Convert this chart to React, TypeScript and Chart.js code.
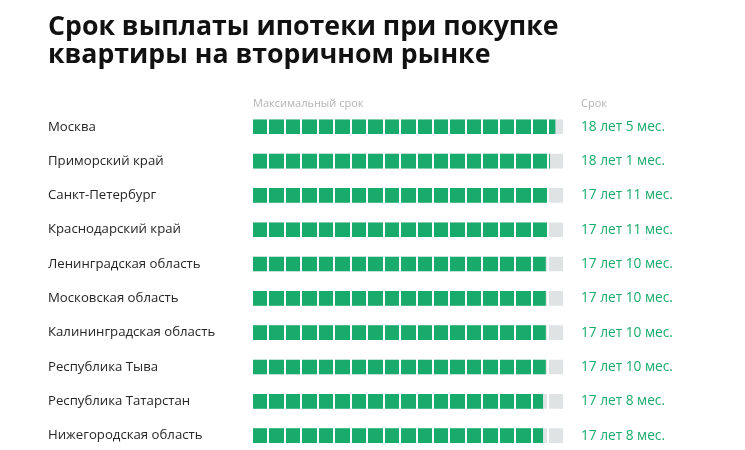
import React, { useEffect, useRef } from "react";
import { Chart, registerables } from "chart.js";

Chart.register(...registerables);

const titleLines = ["Срок выплаты ипотеки при покупке", "квартиры на вторичном рынке"];
const regions = [
  "Москва",
  "Приморский край",
  "Санкт-Петербург",
  "Краснодарский край",
  "Ленинградская область",
  "Московская область",
  "Калининградская область",
  "Республика Тыва",
  "Республика Татарстан",
  "Нижегородская область",
];
const termYears = [18, 18, 17, 17, 17, 17, 17, 17, 17, 17];
const termMonths = [5, 1, 11, 11, 10, 10, 10, 10, 8, 8];
const maxTerm = 18.9;
const headerLeft = "Максимальный срок";
const headerRight = "Срок";

const termValues = termYears.map((y, i) => y + termMonths[i] / 12);
const termLabels = termYears.map((y, i) => `${y} лет ${termMonths[i]} мес.`);

const GREEN = "#19ab6b";
const TRACK = "#dfe3e3";
const FONT = "'Open Sans', sans-serif";

export default function App() {
  const ref = useRef<HTMLCanvasElement | null>(null);

  useEffect(() => {
    if (!ref.current) return;
    const headerPlugin = {
      id: "headers",
      afterDraw(chart: any) {
        const { ctx, chartArea } = chart;
        const y2 = chart.scales.y2;
        ctx.save();
        ctx.font = `11px ${FONT}`;
        ctx.fillStyle = "#b3b3b3";
        ctx.textBaseline = "middle";
        ctx.textAlign = "left";
        ctx.fillText(headerLeft, chartArea.left + 1, chartArea.top - 6);
        ctx.fillText(headerRight, y2.left + 18, chartArea.top - 6);
        ctx.restore();
      },
    };
    const chart = new Chart(ref.current, {
      type: "bar",
      data: {
        labels: regions,
        datasets: [
          {
            label: "Срок",
            data: termValues,
            backgroundColor: GREEN,
            barThickness: 14,
            grouped: false,
            order: 0,
          },
          {
            label: "Максимальный срок",
            data: regions.map(() => maxTerm),
            backgroundColor: TRACK,
            barThickness: 14,
            grouped: false,
            order: 1,
          },
        ],
      },
      options: {
        indexAxis: "y",
        responsive: false,
        animation: false,
        layout: { padding: { left: 48, right: 0, top: 0, bottom: 0 } },
        plugins: {
          legend: { display: false },
          tooltip: { enabled: false },
          title: {
            display: true,
            text: titleLines,
            align: "start",
            color: "#111",
            font: { family: FONT, size: 26.7, weight: "bold", lineHeight: 1.06 },
            padding: { top: 13, bottom: 40 },
          },
        },
        scales: {
          x: {
            type: "linear",
            position: "bottom",
            min: 0,
            max: maxTerm,
            ticks: { display: false, stepSize: 1, includeBounds: false },
            grid: { z: 1, color: "#ffffff", lineWidth: 2, drawTicks: false },
            border: { display: false },
            afterFit(scale: any) {
              scale.height = 0;
            },
          },
          y: {
            type: "category",
            position: "left",
            offset: true,
            grid: { display: false, drawTicks: false },
            border: { display: false },
            ticks: {
              crossAlign: "far",
              color: "#262626",
              font: { family: FONT, size: 13.2 },
              padding: 0,
            },
            afterFit(scale: any) {
              scale.width = 204;
            },
          },
          y2: {
            type: "category",
            position: "right",
            offset: true,
            labels: termLabels,
            grid: { display: false, drawTicks: false },
            border: { display: false },
            ticks: {
              crossAlign: "near",
              color: GREEN,
              font: { family: FONT, size: 13.7 },
              padding: 18,
            },
            afterFit(scale: any) {
              scale.width = 182;
            },
          },
        },
      },
      plugins: [headerPlugin],
    });
    return () => chart.destroy();
  }, []);

  return (
    <div
      style={{
        position: "absolute",
        left: 0,
        top: 0,
        width: 745,
        height: 450,
        overflow: "hidden",
        background: "#fff",
      }}
    >
      <canvas ref={ref} width={745} height={479} />
    </div>
  );
}
